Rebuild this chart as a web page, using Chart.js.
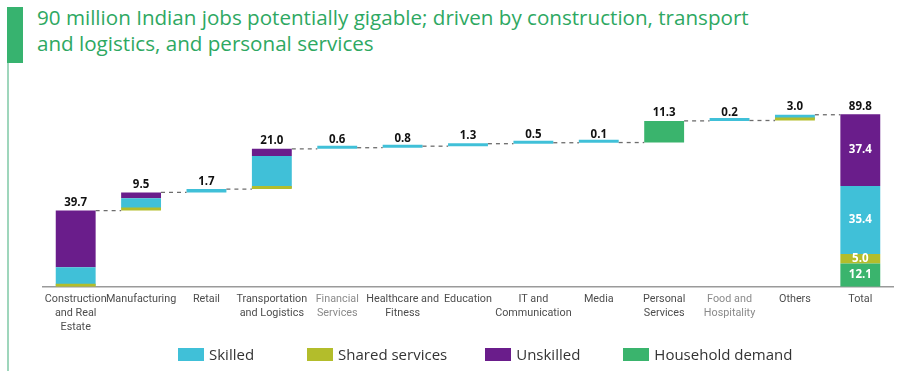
<!DOCTYPE html>
<html>
<head>
<meta charset="utf-8">
<script src="https://cdn.jsdelivr.net/npm/chart.js@4.4.0/dist/chart.umd.min.js"></script>
<style>
  html, body { margin: 0; padding: 0; background: #fff; }
  #wrap { position: relative; width: 900px; height: 371px; overflow: hidden; }
  #title {
    position: absolute; left: 37px; top: 4px;
    font-family: "Open Sans", sans-serif; font-size: 20.6px; line-height: 26px;
    color: #2ea862;
  }
  #bigBar { position: absolute; left: 7px; top: 7px; width: 16px; height: 56px; background: #37b36f; }
  #thinLine { position: absolute; left: 7px; top: 63px; width: 1.5px; height: 308px; background: #9fd6bc; }
  #chartBox { position: absolute; left: 0; top: 0; width: 900px; height: 371px; }
  #legend {
    position: absolute; top: 344px; left: 178px; display: flex;
    font-family: "Open Sans", sans-serif; font-size: 15px; color: #333;
  }
  .item { display: flex; align-items: center; }
  .box { width: 26px; height: 13px; margin-right: 5px; }
</style>
</head>
<body>
<div id="wrap">
  <div id="bigBar"></div>
  <div id="thinLine"></div>
  <div id="title">90 million Indian jobs potentially gigable; driven by construction, transport<br>and logistics, and personal services</div>
  <div id="chartBox"><canvas id="chart"></canvas></div>
  <div id="legend"></div>
</div>
<script>
const categories = [
  ['Construction', 'and Real', 'Estate'], 'Manufacturing', 'Retail',
  ['Transportation', 'and Logistics'], ['Financial', 'Services'], ['Healthcare and', 'Fitness'],
  'Education', ['IT and', 'Communication'], 'Media', ['Personal', 'Services'],
  ['Food and', 'Hospitality'], 'Others', 'Total'
];

// segments per category, stacked bottom -> top: household, shared, skilled, unskilled
const household = [null, null, null, null, null, null, null, null, null, 11.3, null, null, 12.1];
const shared    = [0.5, 1.2, null, 0.6, null, null, null, null, null, null, null, 0.7, 5.0];
const skilled   = [9.6, 5.2, 1.7, 16.7, 0.6, 0.8, 1.3, 0.5, 0.1, null, 0.2, 2.3, 35.4];
const unskilled = [29.6, 3.1, null, 3.7, null, null, null, null, null, null, null, null, 37.4];

const barLabels = ['39.7', '9.5', '1.7', '21.0', '0.6', '0.8', '1.3', '0.5', '0.1', '11.3', '0.2', '3.0', '89.8'];
const totalSegLabels = { household: '12.1', shared: '5.0', skilled: '35.4', unskilled: '37.4' };

const series = [
  { key: 'household', label: 'Household demand', values: household, color: '#3ab46d' },
  { key: 'shared', label: 'Shared services', values: shared, color: '#b3bd2b' },
  { key: 'skilled', label: 'Skilled', values: skilled, color: '#40c0d8' },
  { key: 'unskilled', label: 'Unskilled', values: unskilled, color: '#6a1d8b' }
];
const legendOrder = ['skilled', 'shared', 'unskilled', 'household'];

const last = categories.length - 1;
const bases = [];
const tops = [];
let running = 0;
for (let i = 0; i < categories.length; i++) {
  const start = i === last ? 0 : running;
  let end = start;
  series.forEach(s => { if (s.values[i] != null) end += s.values[i]; });
  bases.push(start);
  tops.push(end);
  if (i !== last) running = end;
}

const datasets = series.map(s => {
  const data = [];
  for (let i = 0; i < categories.length; i++) {
    if (s.values[i] == null) { data.push(null); continue; }
    let start = bases[i];
    for (const other of series) {
      if (other === s) break;
      if (other.values[i] != null) start += other.values[i];
    }
    data.push([start, start + s.values[i]]);
  }
  return {
    label: s.label, key: s.key, data: data,
    backgroundColor: s.color, borderWidth: 0,
    barPercentage: 0.61, categoryPercentage: 1, minBarLength: 3
  };
});

const waterfallExtras = {
  id: 'waterfallExtras',
  afterDatasetsDraw(chart) {
    const ctx = chart.ctx;
    const x = chart.scales.x;
    const y = chart.scales.y;
    const halfBar = x.width / categories.length * 0.61 / 2;
    ctx.save();
    // dashed connectors
    ctx.strokeStyle = '#6d6d6d';
    ctx.lineWidth = 1.3;
    ctx.setLineDash([4, 4]);
    for (let i = 0; i < last; i++) {
      const yy = y.getPixelForValue(tops[i]);
      ctx.beginPath();
      ctx.moveTo(x.getPixelForValue(i) + halfBar, yy);
      ctx.lineTo(x.getPixelForValue(i + 1) - halfBar, yy);
      ctx.stroke();
    }
    ctx.setLineDash([]);
    // value labels
    ctx.fillStyle = '#111';
    ctx.font = 'bold 11.5px "Open Sans", sans-serif';
    ctx.textAlign = 'center';
    ctx.textBaseline = 'bottom';
    for (let i = 0; i < categories.length; i++) {
      ctx.fillText(barLabels[i], x.getPixelForValue(i), y.getPixelForValue(tops[i]) - 2);
    }
    // labels inside total bar
    ctx.fillStyle = '#fff';
    ctx.textBaseline = 'middle';
    chart.data.datasets.forEach(ds => {
      const v = ds.data[last];
      if (!v) return;
      ctx.fillText(totalSegLabels[ds.key], x.getPixelForValue(last), y.getPixelForValue((v[0] + v[1]) / 2));
    });
    ctx.restore();
  }
};

const tickColors = categories.map((c, i) => (i === 4 || i === 10) ? '#8a8a8a' : '#4d4d4d');

const chart = new Chart(document.getElementById('chart'), {
  type: 'bar',
  data: { labels: categories, datasets: datasets },
  options: {
    responsive: true,
    maintainAspectRatio: false,
    animation: false,
    layout: { padding: { left: 43, right: 7, top: 95, bottom: 0 } },
    plugins: { legend: { display: false }, tooltip: { enabled: false } },
    scales: {
      x: {
        stacked: true,
        grid: { display: false, drawTicks: false },
        border: { display: true, color: '#9a9a9a', width: 1.5 },
        ticks: {
          color: tickColors, padding: 6, maxRotation: 0, autoSkip: false,
          font: { family: 'Roboto, sans-serif', size: 10.8, lineHeight: 1.3 }
        },
        afterFit(scale) { scale.height = 84.3; }
      },
      y: {
        display: false, min: 0, max: 100, stacked: false
      }
    }
  },
  plugins: [waterfallExtras]
});

const legend = document.getElementById('legend');
const legendGaps = [53, 38, 43, 0];
legendOrder.forEach((key, idx) => {
  const s = series.find(d => d.key === key);
  const el = document.createElement('div');
  el.className = 'item';
  el.style.marginRight = legendGaps[idx] + 'px';
  el.innerHTML = `<div class="box" style="background:${s.color}"></div><span>${s.label}</span>`;
  legend.appendChild(el);
});
</script>
</body>
</html>
